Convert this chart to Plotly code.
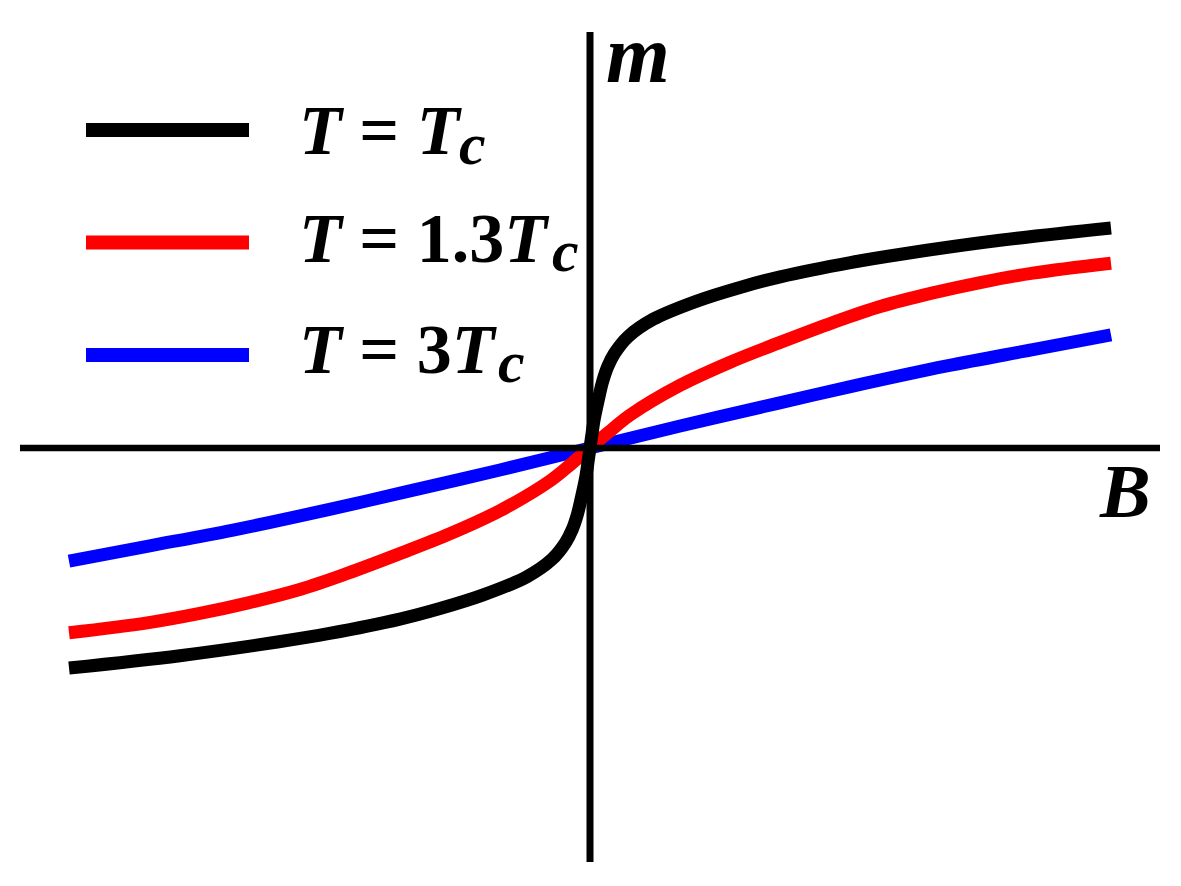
import plotly.graph_objects as go

# ---------------- data ----------------
B_black = [-1.0, -0.787, -0.6, -0.5, -0.365, -0.288, -0.205, -0.121, -0.073, -0.047,
           -0.034, -0.024, -0.016, -0.008, -0.003, 0.0,
           0.003, 0.008, 0.016, 0.024, 0.034, 0.047, 0.073, 0.121, 0.205, 0.288,
           0.365, 0.5, 0.6, 0.787, 1.0]
m_black = [-1.0, -0.944, -0.882, -0.843, -0.778, -0.730, -0.668, -0.585, -0.506, -0.43,
           -0.37, -0.30, -0.22, -0.13, -0.05, 0.0,
           0.05, 0.13, 0.22, 0.30, 0.37, 0.43, 0.506, 0.585, 0.668, 0.730,
           0.778, 0.843, 0.882, 0.944, 1.0]

B_red = [-1.0, -0.85, -0.749, -0.658, -0.557, -0.466, -0.365, -0.269, -0.173, -0.077, -0.035, 0.0,
         0.035, 0.077, 0.173, 0.269, 0.365, 0.466, 0.557, 0.658, 0.749, 0.85, 1.0]
m_red = [-0.84, -0.795, -0.752, -0.705, -0.643, -0.57, -0.48, -0.39, -0.285, -0.15, -0.07, 0.0,
         0.07, 0.15, 0.285, 0.39, 0.48, 0.57, 0.643, 0.705, 0.752, 0.795, 0.84]

B_blue = [-1.0, -0.85, -0.685, -0.5, -0.358, -0.173, 0.0, 0.173, 0.358, 0.5, 0.685, 0.85, 1.0]
m_blue = [-0.514, -0.447, -0.373, -0.279, -0.202, -0.10, 0.0, 0.10, 0.202, 0.279, 0.373, 0.447, 0.514]

# legend labels: main part and subscript
label_main = ["<i>T</i> = <i>T</i>", "<i>T</i> = 1.3<i>T</i>", "<i>T</i> = 3<i>T</i>"]
label_sub = ["c", "c", "c"]
series_colors = ["#000000", "#ff0000", "#0000ff"]
series_B = [B_black, B_red, B_blue]
series_m = [m_black, m_red, m_blue]

# ---------------- layout geometry (pixels) ----------------
W, H = 1181, 886
X0, SX = 590.0, 521.0   # pixel of B=0, pixels per unit B
Y0, SY = 448.0, 220.0   # pixel of m=0, pixels per unit m
FONT = "Liberation Serif, Times New Roman, serif"
F_MAIN, F_SUB = 70, 60
LIFT = 5  # px


def bx(px):
    return (px - X0) / SX


def my(py):
    return (Y0 - py) / SY


def text_y(baseline, size):
    return 1 - (baseline - 0.27 * size - LIFT) / H


fig = go.Figure()
# draw order: blue, red, black (black on top)
for B, m, c in reversed(list(zip(series_B, series_m, series_colors))):
    fig.add_trace(go.Scatter(x=B, y=m, mode="lines",
                             line=dict(color=c, width=13, shape="spline", smoothing=1.0),
                             showlegend=False, hoverinfo="skip"))

shapes = []
# axes
shapes.append(dict(type="line", xref="x", yref="y", x0=bx(20), x1=bx(1160), y0=0, y1=0,
                   line=dict(color="black", width=6.5), layer="above"))
shapes.append(dict(type="line", xref="x", yref="y", x0=0, x1=0, y0=my(862), y1=my(32),
                   line=dict(color="black", width=7), layer="above"))

annotations = []
legend_line_y = [130, 242.5, 355]
text_baseline = [154, 262, 373]
sub_x = [472, 565, 511]
sub_baseline = [165, 272, 383]
for i in range(3):
    yy = legend_line_y[i]
    shapes.append(dict(type="line", xref="paper", yref="paper", x0=86 / W, x1=249 / W,
                       y0=1 - yy / H, y1=1 - yy / H,
                       line=dict(color=series_colors[i], width=14)))
    annotations.append(dict(xref="paper", yref="paper", x=298 / W,
                            y=text_y(text_baseline[i], F_MAIN), borderpad=0,
                            xanchor="left", yanchor="middle", showarrow=False,
                            text="<b>" + label_main[i] + "</b>",
                            font=dict(family=FONT, size=F_MAIN, color="black")))
    annotations.append(dict(xref="paper", yref="paper", x=sub_x[i] / W,
                            y=text_y(sub_baseline[i], F_SUB), borderpad=0,
                            xanchor="center", yanchor="middle", showarrow=False,
                            text="<b><i>" + label_sub[i] + "</i></b>",
                            font=dict(family=FONT, size=F_SUB, color="black")))

annotations.append(dict(xref="paper", yref="paper", x=604 / W, y=text_y(82, 82),
                        xanchor="left", yanchor="middle", showarrow=False, text="<b><i>m</i></b>",
                        font=dict(family=FONT, size=82, color="black")))
annotations.append(dict(xref="paper", yref="paper", x=1097 / W, y=text_y(517, 76),
                        xanchor="left", yanchor="middle", showarrow=False, text="<b><i>B</i></b>",
                        font=dict(family=FONT, size=76, color="black")))

fig.update_layout(
    width=W, height=H,
    margin=dict(l=0, r=0, t=0, b=0, pad=0),
    paper_bgcolor="white", plot_bgcolor="white",
    xaxis=dict(range=[bx(0), bx(W)], visible=False, fixedrange=True),
    yaxis=dict(range=[my(H), my(0)], visible=False, fixedrange=True),
    shapes=shapes, annotations=annotations, showlegend=False,
)

fig.write_html("out.html", config={"displayModeBar": False},
               post_script="document.body.style.margin='0';document.body.style.overflow='hidden';")
